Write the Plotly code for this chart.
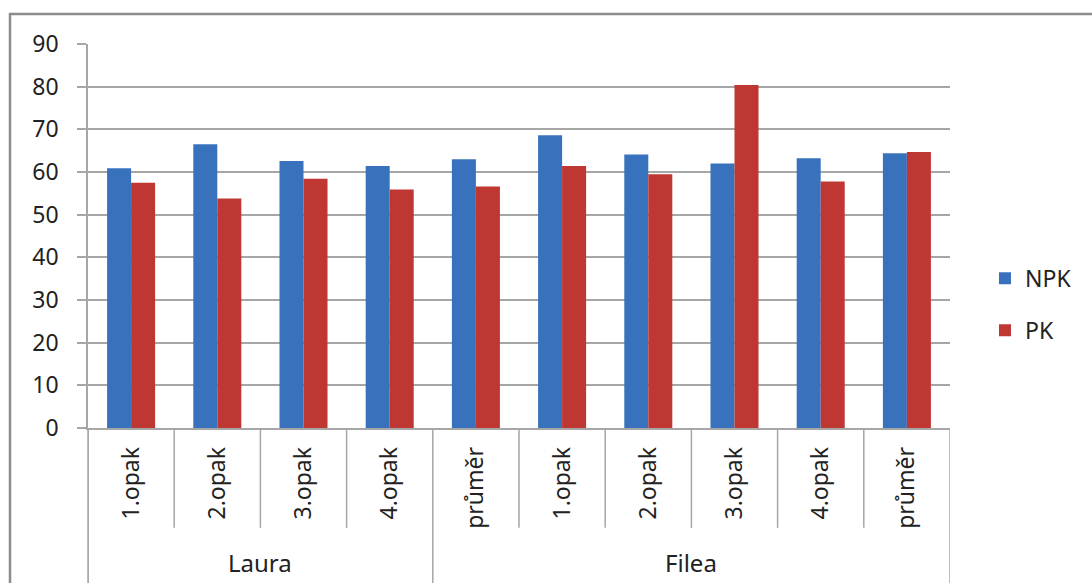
import plotly.graph_objects as go

categories = ["1.opak", "2.opak", "3.opak", "4.opak", "průměr",
              "1.opak", "2.opak", "3.opak", "4.opak", "průměr"]
groups = ["Laura", "Filea"]
group_sizes = [4, 6]
npk = [60.9, 66.5, 62.6, 61.4, 63.0, 68.6, 64.1, 62.0, 63.2, 64.4]
pk = [57.5, 53.8, 58.4, 55.9, 56.6, 61.4, 59.5, 80.4, 57.8, 64.7]
y_ticks = [0, 10, 20, 30, 40, 50, 60, 70, 80, 90]

FONT = "Noto Sans"
FS = 23
GRID = "#A6A6A6"
TXT = "#222222"
x_pos = list(range(len(categories)))

fig = go.Figure()
fig.add_trace(go.Bar(x=x_pos, y=npk, name="NPK", legendgroup="a",
                     marker=dict(color="#3872BD", line=dict(width=0))))
fig.add_trace(go.Bar(x=x_pos, y=pk, name="PK", legendgroup="b",
                     marker=dict(color="#BF3733", line=dict(width=0))))

shapes = []
# outer chart border
shapes.append(dict(type="rect", xref="paper", yref="paper",
                   x0=-0.0905, x1=1.3, y0=-0.6, y1=1.078,
                   line=dict(color="#8C8C8C", width=2.5), layer="below"))
# category dividers
n = len(categories)
long_idx = {0, n}
acc = 0
for s in group_sizes:
    acc += s
    long_idx.add(acc)
for k in range(n + 1):
    xv = -0.5 + k
    y_end = -0.42 if k in long_idx else -0.26
    shapes.append(dict(type="line", xref="x", yref="paper",
                       x0=xv, x1=xv, y0=0, y1=y_end,
                       line=dict(color=GRID, width=1.5)))
# y-axis line continues down
shapes.append(dict(type="line", xref="paper", yref="paper", x0=0, x1=0,
                   y0=0, y1=-0.42, line=dict(color=GRID, width=1.5)))

annotations = []
start = 0
for g, s in zip(groups, group_sizes):
    center = -0.5 + start + s / 2
    annotations.append(dict(text=g, x=center, xref="x", y=-0.349, yref="paper",
                            showarrow=False, xanchor="center", yanchor="middle",
                            font=dict(family=FONT, size=FS + 1, color=TXT)))
    start += s

fig.update_layout(
    width=1092, height=583,
    margin=dict(l=88, r=142, t=44, b=155),
    paper_bgcolor="white", plot_bgcolor="white",
    barmode="group", bargap=0.443, bargroupgap=0,
    font=dict(family=FONT, size=FS, color=TXT),
    shapes=shapes, annotations=annotations,
    showlegend=True,
    legend=dict(xref="container", yref="container", x=0.902, y=0.478,
                xanchor="left", yanchor="middle", traceorder="grouped",
                tracegroupgap=19, font=dict(family=FONT, size=FS, color=TXT),
                bgcolor="rgba(0,0,0,0)"),
    xaxis=dict(range=[-0.5, n - 0.5], tickmode="array", tickvals=x_pos,
               ticktext=categories, tickangle=-90, showgrid=False,
               zeroline=False, showline=True, linecolor=GRID, linewidth=1.5,
               ticks="", ticklabelstandoff=8,
               tickfont=dict(family=FONT, size=FS, color=TXT)),
    yaxis=dict(range=[0, 90], tickmode="array", tickvals=y_ticks,
               showgrid=True, gridcolor=GRID, gridwidth=1.5,
               zeroline=False, showline=True, linecolor=GRID, linewidth=1.5,
               ticks="outside", ticklen=9, tickcolor=GRID, tickwidth=1.5,
               ticklabelstandoff=14,
               tickfont=dict(family=FONT, size=FS, color=TXT)),
)

fig.write_html("out.html")
